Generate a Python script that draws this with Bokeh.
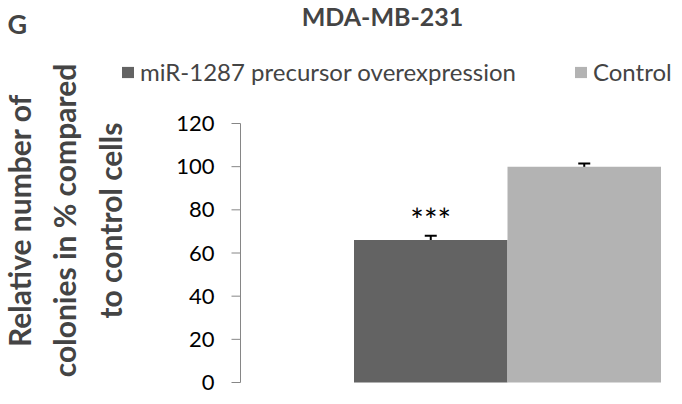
import math
from bokeh.plotting import figure
from bokeh.models import (Range1d, Legend, LegendItem, Label,
                          Whisker, ColumnDataSource, TeeHead)
from bokeh.transform import dodge
from bokeh.core.properties import value
from bokeh.embed import file_html
from bokeh.resources import INLINE

# ---- data ----
panel_label = "G"
title_text = "MDA-MB-231"
y_label_lines = ["Relative number of", "colonies in % compared", "to control cells"]
groups = ["MDA-MB-231"]
series_names = ["miR-1287 precursor overexpression", "Control"]
series_colors = ["#636363", "#b3b3b3"]
mir_values = [66]
control_values = [100]
mir_err = [2.0]
control_err = [1.5]
significance = ["***"]
y_ticks = [0, 20, 40, 60, 80, 100, 120]

# ---- layout (pixels inside the figure) ----
FONT = "Lato"
W, H = 674, 396
PX_X = 424.0          # pixels per x unit
CX = 507.0            # pixel column of the group centre
BY = 382.0            # pixel row of y = 0
TOP = 123.0           # pixel row of y = 120
PX_Y = (BY - TOP) / 120.0
AXIS_PX = 240.0       # pixel column of the value axis
TICK_PX = 9.0
BAR_W = 153.5 / PX_X

p = figure(width=W, height=H, output_backend="svg", toolbar_location=None, tools="",
           x_range=Range1d(-CX / PX_X, (W - CX) / PX_X),
           y_range=Range1d(-(H - BY) / PX_Y, BY / PX_Y),
           x_axis_location=None, y_axis_location=None,
           min_border=0)
p.outline_line_color = None
p.grid.visible = False

src = ColumnDataSource(dict(
    x=list(range(len(groups))),
    mir=mir_values,
    ctrl=control_values,
    mir_lo=[v - e for v, e in zip(mir_values, mir_err)],
    mir_hi=[v + e for v, e in zip(mir_values, mir_err)],
    ctrl_lo=[v - e for v, e in zip(control_values, control_err)],
    ctrl_hi=[v + e for v, e in zip(control_values, control_err)],
    sig=significance,
))

r1 = p.vbar(x=dodge("x", -BAR_W / 2), top="mir", width=BAR_W, source=src,
            fill_color=series_colors[0], line_color=None)
r2 = p.vbar(x=dodge("x", BAR_W / 2), top="ctrl", width=BAR_W, source=src,
            fill_color=series_colors[1], line_color=None)

for base, lo, hi in [(dodge("x", -BAR_W / 2), "mir_lo", "mir_hi"),
                     (dodge("x", BAR_W / 2), "ctrl_lo", "ctrl_hi")]:
    p.add_layout(Whisker(base=base, lower=lo, upper=hi, source=src,
                         line_color="black", line_width=2,
                         upper_head=TeeHead(size=12, line_width=2, line_color="black"),
                         lower_head=TeeHead(size=12, line_width=2, line_color="black")))

p.text(x=dodge("x", -BAR_W / 2), y="mir_hi", text="sig", source=src,
       text_font=value(FONT), text_font_size="32px", text_color="black",
       text_align="center", text_baseline="middle", y_offset=-16)

# ---- value axis (line, ticks, labels) drawn on the plot's own scales ----
axis_x = (AXIS_PX - CX) / PX_X
tick_len = TICK_PX / PX_X
ax_src = ColumnDataSource(dict(y=y_ticks, lab=[str(t) for t in y_ticks]))
p.segment(x0=axis_x, y0=min(y_ticks), x1=axis_x, y1=max(y_ticks),
          line_color="#868686", line_width=1)
p.segment(x0=axis_x - tick_len, y0="y", x1=axis_x, y1="y", source=ax_src,
          line_color="#868686", line_width=1)
p.text(x=axis_x, y="y", text="lab", source=ax_src, x_offset=-(TICK_PX + 17),
       text_font=value(FONT), text_font_size="22px", text_color="black",
       text_align="right", text_baseline="middle")

legend = Legend(items=[LegendItem(label=series_names[0], renderers=[r1]),
                       LegendItem(label=series_names[1], renderers=[r2])],
                orientation="horizontal", location=(120, 310),
                border_line_color=None, background_fill_alpha=0,
                padding=0, margin=0, spacing=57,
                glyph_width=15, glyph_height=14, label_standoff=5,
                label_text_font=FONT, label_text_font_size="24px",
                label_height=14)
p.add_layout(legend)

p.add_layout(Label(x=7, y=H - 23, x_units="screen", y_units="screen", text=panel_label,
                   text_font=FONT, text_font_style="bold", text_font_size="27px",
                   text_align="left", text_baseline="middle"))
p.add_layout(Label(x=382, y=H, x_units="screen", y_units="screen", text=title_text,
                   text_font=FONT, text_font_style="bold", text_font_size="25px",
                   text_align="center", text_baseline="top"))
p.add_layout(Label(x=64, y=H - 220, x_units="screen", y_units="screen",
                   text="\n".join(y_label_lines), angle=math.pi / 2,
                   text_font=FONT, text_font_style="bold", text_font_size="30px",
                   text_align="center", text_baseline="middle", text_line_height=1.27))

open("out.html", "w").write(file_html(p, INLINE))
